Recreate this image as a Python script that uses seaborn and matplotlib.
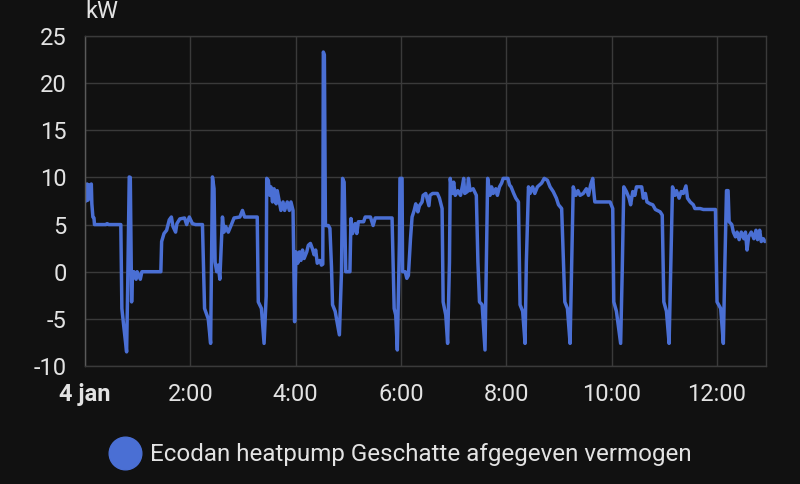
import matplotlib
matplotlib.use("Agg")
import matplotlib.pyplot as plt
import seaborn as sns
import pandas as pd
from matplotlib.lines import Line2D

# Ecodan heat pump, estimated output power, 4 jan 0:00 - ~13:00
hours = [
    0.00, 0.02, 0.04, 0.06, 0.08, 0.10, 0.12, 0.13, 0.15, 0.17, 0.18, 0.40, 0.42, 0.45, 0.68,
    0.70, 0.74, 0.79, 0.81, 0.84, 0.86, 0.885, 0.90, 0.91, 0.93, 0.97, 0.99, 1.05, 1.08, 1.44,
    1.455, 1.50, 1.55, 1.60, 1.64, 1.67, 1.72, 1.745, 1.80, 1.89, 1.93, 1.98, 2.04, 2.10, 2.23,
    2.27, 2.34, 2.385, 2.42, 2.45, 2.47, 2.50, 2.53, 2.56,
    2.61, 2.64, 2.67, 2.72, 2.78, 2.83, 2.94, 2.99, 3.03, 3.27,
    3.29, 3.35, 3.40, 3.44, 3.45, 3.48, 3.51, 3.53, 3.56, 3.59, 3.63, 3.65, 3.69, 3.72, 3.76,
    3.79, 3.84, 3.88, 3.91, 3.95,
    3.98, 4.005, 4.04, 4.07, 4.10, 4.13, 4.16, 4.21, 4.24, 4.28, 4.32, 4.35, 4.38, 4.41, 4.46,
    4.49, 4.515,
    4.525, 4.545, 4.565, 4.62, 4.65, 4.68, 4.70, 4.75, 4.83, 4.87, 4.89, 4.92, 4.95, 5.03,
    5.05, 5.08, 5.13, 5.16, 5.19, 5.29, 5.32, 5.42, 5.47, 5.51, 5.83,
    5.87, 5.90, 5.93, 5.97, 5.98, 6.02, 6.03, 6.08, 6.11, 6.14,
    6.18, 6.21, 6.25, 6.28, 6.32, 6.35, 6.40, 6.42, 6.47, 6.53, 6.55, 6.60, 6.69, 6.73, 6.78,
    6.80, 6.85, 6.885, 6.92, 6.935, 6.97, 7.00, 7.03, 7.08, 7.13, 7.17, 7.19, 7.21, 7.26, 7.28,
    7.31, 7.37, 7.43,
    7.46, 7.49, 7.54, 7.595, 7.62, 7.645, 7.69, 7.72, 7.75, 7.80, 7.83, 7.87, 7.91, 7.94, 8.03,
    8.06, 8.09, 8.14, 8.18, 8.23,
    8.26, 8.31, 8.355, 8.38, 8.42, 8.45, 8.50, 8.54, 8.59, 8.67, 8.72, 8.78, 8.83, 8.89, 8.95,
    8.99, 9.05,
    9.11, 9.16, 9.21, 9.24, 9.27, 9.32, 9.36, 9.40, 9.46, 9.52, 9.56, 9.60, 9.64, 9.66, 9.68,
    9.97, 10.02,
    10.04, 10.09, 10.17, 10.20, 10.23, 10.28, 10.33, 10.36, 10.40, 10.44, 10.47, 10.57, 10.60,
    10.64, 10.67, 10.73, 10.78, 10.83, 10.92, 10.96,
    10.99, 11.04, 11.09, 11.12, 11.155, 11.20, 11.23, 11.28, 11.32, 11.36, 11.41, 11.44, 11.49,
    11.55, 11.58, 11.68, 11.74, 11.97,
    12.00, 12.07, 12.12, 12.15, 12.18, 12.21, 12.23, 12.28, 12.31, 12.35, 12.38, 12.42, 12.46,
    12.51, 12.54, 12.57, 12.60, 12.65, 12.70, 12.74, 12.77, 12.81, 12.84, 12.88, 12.91,
]
kw = [
    9.0, 7.5, 9.3, 7.6, 9.2, 7.8, 9.3, 7.2, 5.8, 5.7, 5.0, 5.0, 5.1, 5.0, 5.0,
    -3.9, -6.0, -8.5, -1.8, 10.05, 10.0, -3.2, 0.0, -0.7, 0.0, -0.8, 0.0, -0.8, 0.0, 0.0,
    3.2, 4.05, 4.4, 5.5, 5.8, 4.8, 4.2, 5.1, 5.6, 5.7, 5.0, 5.8, 5.1, 5.0, 5.0,
    -3.9, -5.0, -7.6, 10.05, 8.8, 1.05, 0.0, 0.7, -0.8,
    5.8, 4.2, 4.8, 4.2, 5.0, 5.7, 5.8, 6.5, 5.8, 5.8,
    -3.2, -3.9, -7.6, -2.6, 9.9, 9.7, 8.1, 9.0, 7.4, 8.8, 7.2, 8.6, 7.4, 6.5, 7.4,
    6.5, 7.4, 6.5, 7.4, 6.5,
    -5.3, 2.1, 0.9, 2.1, 1.2, 2.3, 1.4, 2.1, 2.8, 3.0, 2.4, 1.8, 2.3, 0.9, 1.2,
    0.7, 0.8,
    23.3, 23.0, 4.9, 4.9, 4.6, 0.5, -3.5, -4.2, -6.7, 0.0, 9.9, 9.5, 0.0, 0.0,
    5.64, 4.05, 5.1, 4.05, 5.3, 5.3, 5.8, 5.8, 4.9, 5.7, 5.7,
    -3.9, -4.6, -8.3, 3.2, 9.9, 9.9, 0.0, 0.0, -0.7, -0.4,
    3.5, 5.8, 6.5, 7.2, 6.35, 7.0, 7.4, 8.1, 8.3, 7.0, 8.1, 8.3, 8.3, 7.8, 6.7,
    -3.2, -4.6, -7.6, 1.0, 9.9, 8.3, 9.5, 8.1, 8.6, 8.1, 9.2, 9.9, 8.3, 8.5, 9.9,
    8.6, 8.8, 8.1,
    1.05, -3.2, -3.5, -8.3, 1.0, 9.9, 8.1, 9.0, 8.3, 8.8, 8.1, 9.0, 9.4, 9.9, 9.9,
    9.2, 9.0, 8.3, 7.8, 7.4,
    -3.5, -4.2, -7.6, 1.05, 9.0, 8.3, 9.0, 8.3, 9.0, 9.4, 9.9, 9.7, 9.0, 8.5, 7.8,
    7.1, 6.7,
    -3.2, -3.9, -7.6, 1.0, 9.0, 8.1, 8.6, 8.1, 8.3, 8.8, 8.1, 9.2, 9.9, 8.5, 7.4,
    7.4, 6.7,
    -3.2, -4.2, -7.6, 0.0, 9.0, 8.5, 7.8, 7.1, 8.5, 8.1, 9.0, 9.0, 7.8,
    8.3, 7.4, 7.2, 7.1, 6.6, 6.35, 6.0,
    -3.2, -4.2, -7.6, 0.0, 9.0, 8.1, 8.6, 7.8, 8.5, 8.3, 9.1, 7.8, 7.4,
    7.1, 6.7, 6.7, 6.6, 6.6,
    -3.2, -3.9, -7.6, 1.05, 8.6, 8.6, 5.3, 5.0, 4.2, 3.7, 4.2, 3.4, 4.2,
    3.5, 4.2, 2.3, 3.7, 4.2, 3.5, 4.4, 3.4, 4.4, 3.2, 3.5, 3.2,
]

y_ticks = [-10, -5, 0, 5, 10, 15, 20, 25]
x_ticks = [0, 2, 4, 6, 8, 10, 12]
x_labels = ["4 jan", "2:00", "4:00", "6:00", "8:00", "10:00", "12:00"]
unit_label = "kW"
legend_label = "Ecodan heatpump Geschatte afgegeven vermogen"

bg = "#111111"
grid_col = "#3a3a3a"
txt_col = "#e3e3e3"
blue = "#4a6fd4"

sns.set_theme(style="dark")
plt.rcParams["font.family"] = ["Roboto", "DejaVu Sans"]
plt.rcParams["axes.unicode_minus"] = False

fig = plt.figure(figsize=(8, 4.84), dpi=100, facecolor=bg)
ax = fig.add_axes([85 / 800, 1 - 366 / 484, 681 / 800, 330 / 484])
ax.set_facecolor(bg)

df = pd.DataFrame({"hours": hours, "kW": kw})
sns.lineplot(data=df, x="hours", y="kW", ax=ax, color=blue, linewidth=2.5,
             estimator=None, sort=False)

ax.set_xlim(0, 12.93)
ax.set_ylim(-10, 25)
ax.set_yticks(y_ticks)
ax.set_xticks(x_ticks)
ax.set_xticklabels(x_labels)
ax.get_xticklabels()[0].set_fontweight("bold")
ax.set_xlabel("")
ax.set_ylabel("")

ax.grid(True, color=grid_col, linewidth=1)
ax.set_axisbelow(True)
ax.tick_params(axis="y", length=11, width=1, color=grid_col, pad=2,
               labelsize=17, labelcolor=txt_col)
ax.tick_params(axis="x", length=0, pad=12, labelsize=17, labelcolor=txt_col)
for side in ["top", "right", "bottom"]:
    ax.spines[side].set_color(grid_col)
    ax.spines[side].set_linewidth(1)
ax.spines["left"].set_color("#5a5a5a")
ax.spines["left"].set_linewidth(1)

fig.text(85 / 800, 1 - 18.5 / 484, unit_label, ha="left", va="baseline",
         fontsize=17, color=txt_col)

handle = Line2D([], [], marker="o", linestyle="none", color=blue, markersize=23.5)
fig.legend(handles=[handle], labels=[legend_label], loc="center",
           bbox_to_anchor=(0.5, 1 - 454.5 / 484), frameon=False, fontsize=17.4,
           labelcolor=txt_col, handlelength=1.4, handletextpad=0.35,
           borderpad=0, borderaxespad=0)

fig.savefig("out.png", dpi=100, facecolor=bg)
